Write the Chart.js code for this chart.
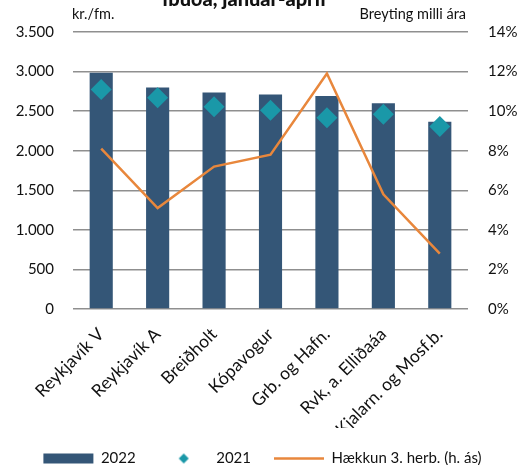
<!DOCTYPE html>
<html>
<head>
<meta charset="utf-8">
<script src="https://cdn.jsdelivr.net/npm/chart.js@4"></script>
<style>
  html, body { margin: 0; padding: 0; background: #fff; }
  #wrap { width: 525px; height: 465px; }
</style>
</head>
<body>
<div id="wrap"><canvas id="c" width="525" height="465"></canvas></div>
<script>
// data
const categories = ["Reykjavík V", "Reykjavík A", "Breiðholt", "Kópavogur", "Grb. og Hafn.", "Rvk, a. Elliðaáa", "Kjalarn. og Mosf.b."];
const price2022 = [2985, 2800, 2735, 2710, 2690, 2600, 2365];
const price2021 = [2775, 2670, 2555, 2510, 2415, 2460, 2305];
const hakkun = [8.1, 5.1, 7.2, 7.8, 11.9, 5.8, 2.8];

const titleText = "íbúða, janúar-apríl";
const leftUnit = "kr./fm.";
const rightUnit = "Breyting milli ára";

const COLORS = {
  bar: "#345677",
  diamond: "#1a98a8",
  line: "#e8873c",
  grid: "#8f8f8f",
  text: "#111"
};

const FONT = "Lato, 'Open Sans', sans-serif";

// thousands with a dot, the Icelandic way
const fmtKr = (v) => String(v).replace(/\B(?=(\d{3})+(?!\d))/g, ".");

// small diamond for the legend (built-in rectRot gets stretched by pointStyleWidth)
function diamondIcon(color, r) {
  const cv = document.createElement("canvas");
  cv.width = 2 * r + 2;
  cv.height = 2 * r + 2;
  const g = cv.getContext("2d");
  const c = r + 1;
  g.fillStyle = color;
  g.beginPath();
  g.moveTo(c - r, c);
  g.lineTo(c, c - r);
  g.lineTo(c + r, c);
  g.lineTo(c, c + r);
  g.closePath();
  g.fill();
  return cv;
}

// title (clipped at the top like the original) and the two unit labels
const headerPlugin = {
  id: "header",
  afterDraw(chart) {
    const { ctx, chartArea } = chart;
    ctx.save();
    ctx.fillStyle = COLORS.text;
    ctx.textBaseline = "alphabetic";
    ctx.font = "900 20px " + FONT;
    ctx.textAlign = "center";
    ctx.fillText(titleText, 244, 6);
    ctx.font = "14.5px " + FONT;
    ctx.textAlign = "left";
    ctx.fillText(leftUnit, chartArea.left - 1, 19);
    ctx.textAlign = "right";
    ctx.fillText(rightUnit, chartArea.right - 2, 19);
    ctx.restore();
  }
};

new Chart(document.getElementById("c").getContext("2d"), {
  type: "bar",
  data: {
    labels: categories,
    datasets: [
      {
        label: "2022",
        data: price2022,
        backgroundColor: COLORS.bar,
        borderWidth: 0,
        barPercentage: 0.41,
        categoryPercentage: 1,
        yAxisID: "y",
        order: 3
      },
      {
        label: "2021",
        type: "line",
        data: price2021,
        showLine: false,
        pointStyle: "rectRot",
        pointRadius: 10.5,
        pointBackgroundColor: COLORS.diamond,
        pointBorderWidth: 0,
        yAxisID: "y",
        order: 1
      },
      {
        label: "Hækkun 3. herb. (h. ás)",
        type: "line",
        data: hakkun,
        borderColor: COLORS.line,
        borderWidth: 2.5,
        pointRadius: 0,
        tension: 0,
        yAxisID: "y1",
        order: 2
      }
    ]
  },
  options: {
    responsive: false,
    animation: false,
    layout: { padding: { top: 32, left: 0, right: 0, bottom: -11 } },
    plugins: {
      tooltip: { enabled: false },
      legend: {
        position: "bottom",
        labels: {
          usePointStyle: true,
          pointStyleWidth: 50,
          boxHeight: 10,
          padding: 23,
          color: COLORS.text,
          font: { family: FONT, size: 15 },
          generateLabels: () => [
            { text: "2022", datasetIndex: 0, pointStyle: "rect", fillStyle: COLORS.bar, strokeStyle: COLORS.bar, lineWidth: 0, fontColor: COLORS.text },
            { text: "2021", datasetIndex: 1, pointStyle: diamondIcon(COLORS.diamond, 5), fillStyle: COLORS.diamond, lineWidth: 0, fontColor: COLORS.text },
            { text: "Hækkun 3. herb. (h. ás)", datasetIndex: 2, pointStyle: "line", strokeStyle: COLORS.line, lineWidth: 2.5, fontColor: COLORS.text }
          ]
        }
      }
    },
    scales: {
      x: {
        grid: { display: false, drawTicks: false },
        border: { display: false },
        ticks: {
          color: COLORS.text,
          font: { family: FONT, size: 17.5 },
          minRotation: 45,
          maxRotation: 45,
          autoSkip: false,
          padding: 15
        },
        afterFit: (s) => { s.height = 119; }
      },
      y: {
        position: "left",
        min: 0,
        max: 3500,
        ticks: {
          stepSize: 500,
          padding: 19,
          color: COLORS.text,
          font: { family: FONT, size: 15 },
          callback: (v) => fmtKr(v)
        },
        grid: { color: COLORS.grid, lineWidth: 1.5, drawTicks: false },
        border: { display: false },
        afterFit: (s) => { s.width = 73; }
      },
      y1: {
        position: "right",
        min: 0,
        max: 14,
        ticks: {
          stepSize: 2,
          padding: 20,
          color: COLORS.text,
          font: { family: FONT, size: 15 },
          callback: (v) => v + "%"
        },
        grid: { display: false, drawTicks: false },
        border: { display: false },
        afterFit: (s) => { s.width = 57; }
      }
    }
  },
  plugins: [headerPlugin]
});
</script>
</body>
</html>
